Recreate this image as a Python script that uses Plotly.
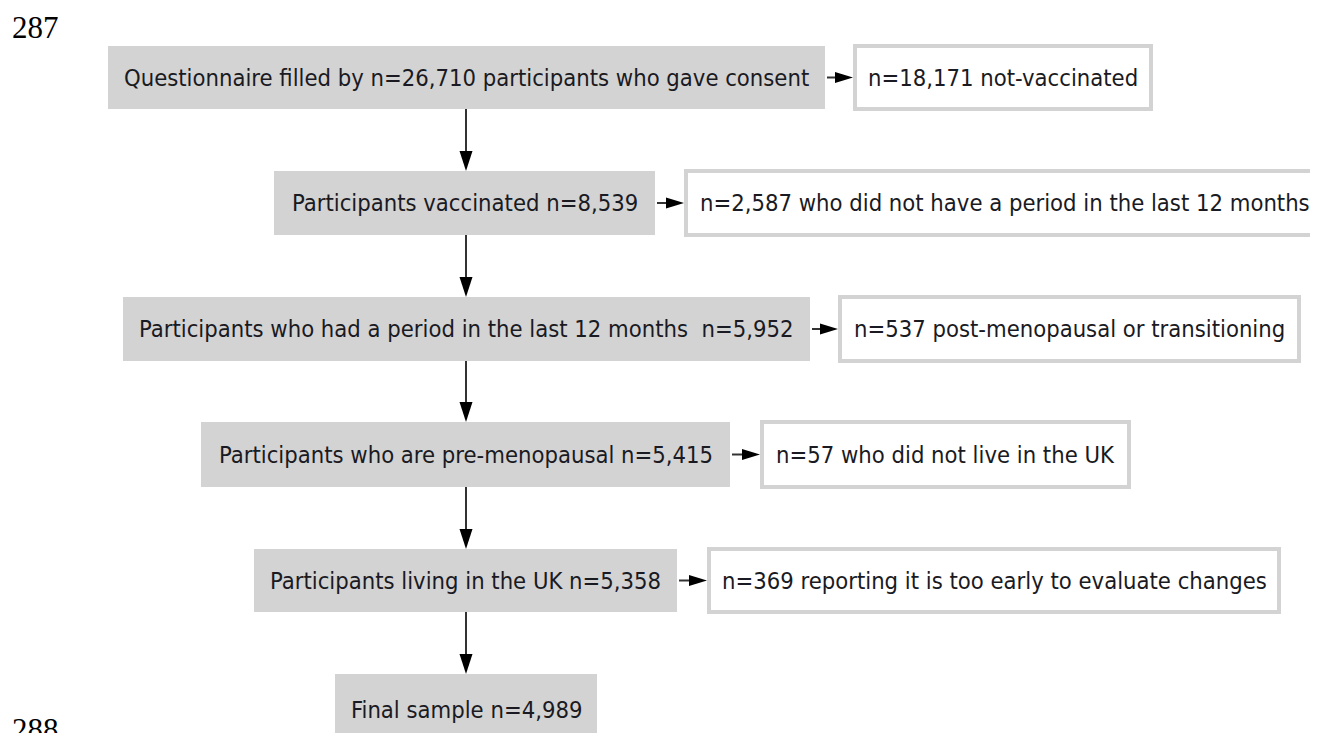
import plotly.graph_objects as go

# flow chart content
main_steps = [
    "Questionnaire filled by n=26,710 participants who gave consent",
    "Participants vaccinated n=8,539",
    "Participants who had a period in the last 12 months  n=5,952",
    "Participants who are pre-menopausal n=5,415",
    "Participants living in the UK n=5,358",
    "Final sample n=4,989",
]
excluded = [
    "n=18,171 not-vaccinated",
    "n=2,587 who did not have a period in the last 12 months",
    "n=537 post-menopausal or transitioning",
    "n=57 who did not live in the UK",
    "n=369 reporting it is too early to evaluate changes",
]
line_numbers = ["287", "288"]

# layout geometry (page pixels, y down)
W, H = 1318, 733
PAD = 8  # default body margin of the html page
rows_y = [(46, 109), (171, 235), (297, 361), (422, 487), (549, 612), (674, 745)]
gray_x = [(108, 825), (274, 655), (123, 810), (201, 730), (254, 677), (335, 597)]
white_x = [(855, 1151), (686, 1323), (840, 1299), (762, 1129), (709, 1279)]
spine_x = 466

FONT = "DejaVu Sans Condensed, Liberation Sans Narrow, sans-serif"
GRAY = "#d3d3d3"
INK = "#1a1a22"
FS = 23.6

fig = go.Figure()
shapes = []
annotations = []

for i, label in enumerate(main_steps):
    y0, y1 = rows_y[i]
    x0, x1 = gray_x[i]
    shapes.append(dict(type="rect", x0=x0, x1=x1, y0=y0, y1=y1,
                       fillcolor=GRAY, line=dict(width=0), layer="below"))
    annotations.append(dict(x=(x0 + x1) / 2, y=(y0 + y1) / 2, text=label,
                            showarrow=False, font=dict(family=FONT, size=FS, color=INK)))

    # down arrow to the next step
    if i < len(main_steps) - 1:
        ny0 = rows_y[i + 1][0]
        shapes.append(dict(type="line", x0=spine_x, x1=spine_x, y0=y1, y1=ny0 - 18,
                           line=dict(color="#333333", width=2)))
        shapes.append(dict(type="path",
                           path=f"M {spine_x - 6.5} {ny0 - 20} L {spine_x + 6.5} {ny0 - 20} L {spine_x} {ny0} Z",
                           fillcolor="black", line=dict(width=0)))

for i, label in enumerate(excluded):
    y0, y1 = rows_y[i]
    x0, x1 = white_x[i]
    gx1 = gray_x[i][1]
    shapes.append(dict(type="rect", x0=x0, x1=x1, y0=y0, y1=y1,
                       fillcolor="white", line=dict(color=GRAY, width=4)))
    annotations.append(dict(x=(x0 + x1) / 2, y=(y0 + y1) / 2, text=label,
                            showarrow=False, font=dict(family=FONT, size=FS, color=INK)))
    ym = (y0 + y1) / 2
    tip = x0 - 2
    shapes.append(dict(type="line", x0=gx1 + 2, x1=tip - 15, y0=ym, y1=ym,
                       line=dict(color="#333333", width=2)))
    shapes.append(dict(type="path",
                       path=f"M {tip - 18} {ym - 5.5} L {tip - 18} {ym + 5.5} L {tip} {ym} Z",
                       fillcolor="black", line=dict(width=0)))

annotations.append(dict(x=35, y=27, text=line_numbers[0], showarrow=False,
                        font=dict(family="Liberation Serif", size=31, color="black")))
annotations.append(dict(x=35, y=729, text=line_numbers[1], showarrow=False,
                        font=dict(family="Liberation Serif", size=31, color="black")))

fig.update_layout(
    width=W - PAD, height=H - PAD,
    margin=dict(l=0, r=0, t=0, b=0),
    paper_bgcolor="white", plot_bgcolor="white",
    xaxis=dict(range=[PAD, W], visible=False, fixedrange=True),
    yaxis=dict(range=[H, PAD], visible=False, fixedrange=True),
    shapes=shapes,
    annotations=annotations,
    showlegend=False,
)

fig.write_html("out.html", config={"displayModeBar": False})
